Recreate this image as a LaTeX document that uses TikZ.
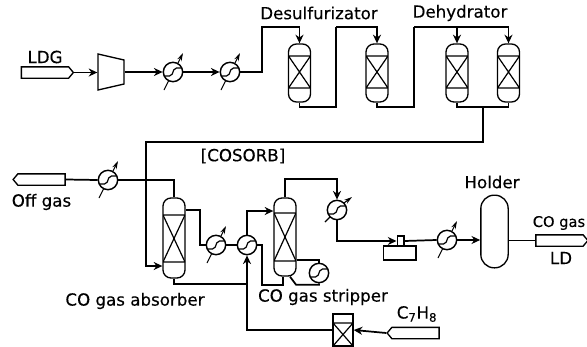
\documentclass[tikz,border=0pt]{standalone}
\usepackage{fontspec}
\setmainfont[FakeBold=0.3]{DejaVu Sans}
\usetikzlibrary{arrows.meta, shapes.geometric, shapes.symbols, calc}
\tikzset{
  pipeline/.style={line width=1.3pt, line join=miter},
  feedline/.style={pipeline, -{Stealth[length=6.5pt,width=6pt]}},
  ventline/.style={line width=0.8pt},
  tag/.style={font=\fontsize{12.5}{14}\selectfont, inner sep=0pt},
  feed/.style={
    signal, signal to=#1, signal pointer angle=100,
    draw, line width=1pt, inner sep=0pt,
    minimum width=39pt, minimum height=8.5pt
  },
  exch/.style={
    circle, draw, line width=1.1pt, inner sep=0pt, minimum size=14.5pt, fill=white,
    path picture={
      \draw[line width=0.9pt, rounded corners=1.5pt,
            shift={(path picture bounding box.center)}, rotate=#1]
        (-10,4) -- (-1.5,4) -- (1.5,-4) -- (10,-4);
    }
  },
  exch/.default=0,
  packed/.style 2 args={
    rectangle, rounded corners=6pt, draw, line width=1pt, inner sep=0pt,
    minimum width=16.5pt,
    path picture={
      \coordinate (nw) at (path picture bounding box.north west);
      \coordinate (ne) at (path picture bounding box.north east);
      \coordinate (sw) at (path picture bounding box.south west);
      \coordinate (se) at (path picture bounding box.south east);
      \draw[line width=0.9pt]
        ($(nw)+(0,#1)$) -- ($(ne)+(0,#1)$)
        ($(sw)+(0,-#2)$) -- ($(se)+(0,-#2)$)
        ($(nw)+(0,#1)$) -- ($(se)+(0,-#2)$)
        ($(ne)+(0,#1)$) -- ($(sw)+(0,-#2)$);
    }
  },
}
\begin{document}
\begin{tikzpicture}[x=0.75pt, y=-0.75pt]
    \useasboundingbox (0,0) rectangle (587,347);
    % first line: LDG to dehydrators
    \node[feed=east] (ldg) at (45,72.5) {};
    \node[trapezium, draw, line width=1pt, inner sep=1pt, rotate=-90,
          trapezium left angle=76, trapezium right angle=76,
          trapezium stretches=true,
          minimum width=27pt, minimum height=19.5pt] (comp) at (111,72) {};
    \node[exch] (c1) at (173,72) {};
    \node[exch] (c2) at (230,72) {};
    \node[packed={12}{14}, minimum height=43.5pt] (v1) at (299.5,73) {};
    \node[packed={12}{14}, minimum height=43.5pt] (v2) at (377,73) {};
    \node[packed={12}{14}, minimum height=43.5pt] (v3) at (457,73) {};
    \node[packed={12}{14}, minimum height=43.5pt] (v4) at (508.5,73) {};
    % second line
    \node[feed=west] (off) at (41.5,179.5) {};
    \node[exch] (c3) at (108,180) {};
    \node[packed={17}{16}, minimum height=60pt] (abs) at (174,238) {};
    \node[exch] (c4) at (216,245) {};
    \node[exch] (c5) at (247,245) {};
    \node[packed={15}{15}, minimum height=58.5pt] (strip) at (285,237) {};
    \node[exch=90] (reb) at (319,273) {};
    \node[exch=90] (c6) at (337,210) {};
    \node[draw, line width=1pt, inner sep=0pt, minimum width=24.5pt, minimum height=10.5pt] (drum) at (399.5,253) {};
    \node[draw, line width=1pt, inner sep=0pt, minimum width=5pt, minimum height=7.5pt] (nozzle) at (400.5,241) {};
    \node[exch=90] (c7) at (447,240) {};
    \node[draw, rounded corners=10pt, line width=1pt, inner sep=0pt, minimum width=20.5pt, minimum height=54.5pt] (hold) at (494.5,231.5) {};
    \node[feed=east] (ld) at (559.5,240.5) {};
    \node[packed={9}{0}, rounded corners=0pt, minimum width=15pt, minimum height=24pt] (tower) at (343,330) {};
    \node[feed=west] (tol) at (415.5,333) {};
    % labels
    \node[tag] (t1) at (319,13) {Desulfurizator};
    \node[tag] (t2) at (460,13) {Dehydrator};
    \node[tag] (t3) at (45,57) {LDG};
    \node[tag] (t4) at (243,156) {[COSORB]};
    \node[tag] (t5) at (41.5,202) {Off gas};
    \node[tag] (t6) at (135,301) {CO gas absorber};
    \node[tag] (t7) at (323,297) {CO gas stripper};
    \node[tag] (t8) at (492,182) {Holder};
    \node[tag, font=\fontsize{11}{13}\selectfont] (t9) at (559,223) {CO gas};
    \node[tag] (t10) at (561,258) {LD};
    \node[tag] (t11) at (417,314) {C\textsubscript{7}H\textsubscript{8}};
    % pipes
    \draw[feedline] (ldg.east) -- (comp.south |- ldg.east);
    \draw[feedline] (comp.north |- c1.west) -- (c1.west);
    \draw[feedline] (c1.east) -- (c2.west);
    \draw[pipeline] (c2.east) -- (262,72) -- (262,27) -- (299.5,27);
    \draw[feedline] (299.5,27) -- (v1.north);
    \draw[pipeline] (v1.south) |- (336,107) -- (336,27);
    \draw[feedline] (336,27) -| (v2.north);
    \draw[pipeline] (v2.south) |- (414,107) -- (414,27);
    \draw[feedline] (414,27) -| (v3.north);
    \draw[feedline] (v3.north |- 0,27) -| (v4.north);
    \draw[pipeline] (v3.south) |- (483,107) -| (v4.south);
    \draw[feedline] (483,107) -- (483,142) -- (146,142) |- (abs.west |- 0,266);
    \draw[pipeline] (off.east) -- (c3.west);
    \draw[pipeline] (c3.east) -| (abs.north);
    \draw[pipeline] (abs.east |- 0,210) -- (200,210) |- (c4.west);
    \draw[pipeline] (c4.east) -- (c5.west);
    \draw[pipeline] (abs.south) |- (247,284);
    \draw[feedline] (tower.west) -| (c5.south);
    \draw[feedline] (c5.north) |- (strip.west |- 0,211);
    \draw[pipeline] (c5.east) -- (262,245) |- ($(strip.south)+(-2,8)$) -- ($(strip.south)+(-2,0)$);
    \draw[pipeline] ($(strip.south)+(5,0)$) -- ($(strip.south)+(11,8)$) -| (reb.south);
    \draw[pipeline] (strip.east |- 0,260) -| (reb.north);
    \draw[pipeline] (strip.north) |- (337,179) -- (337,190);
    \draw[feedline] (337,190) -- (c6.north);
    \draw[feedline] (c6.south) |- (nozzle.west);
    \draw[pipeline] (nozzle.east) -- (c7.west);
    \draw[feedline] (c7.east) -- (hold.west |- c7.east);
    \draw[pipeline] (hold.east |- ld.west) -- (ld.west);
    \draw[feedline] (tol.west) -- (tower.east);
    % vents across the exchangers
    \foreach \n in {c1,c2,c3,c4,c7} {
        \draw[ventline] ($(\n)+(-9,18)$) -- ($(\n)+(-4.5,9)$);
        \draw[ventline, -{Stealth[length=6pt,width=3.5pt]}] ($(\n)+(5,-9)$) -- ($(\n)+(10,-19)$);
    }
    \draw[ventline] ($(c6)+(-12,12)$) -- ($(c6)+(-7,7)$);
    \draw[ventline, -{Stealth[length=6pt,width=3.5pt]}] ($(c6)+(7,-7)$) -- ($(c6)+(15,-13)$);
\end{tikzpicture}
\end{document}
